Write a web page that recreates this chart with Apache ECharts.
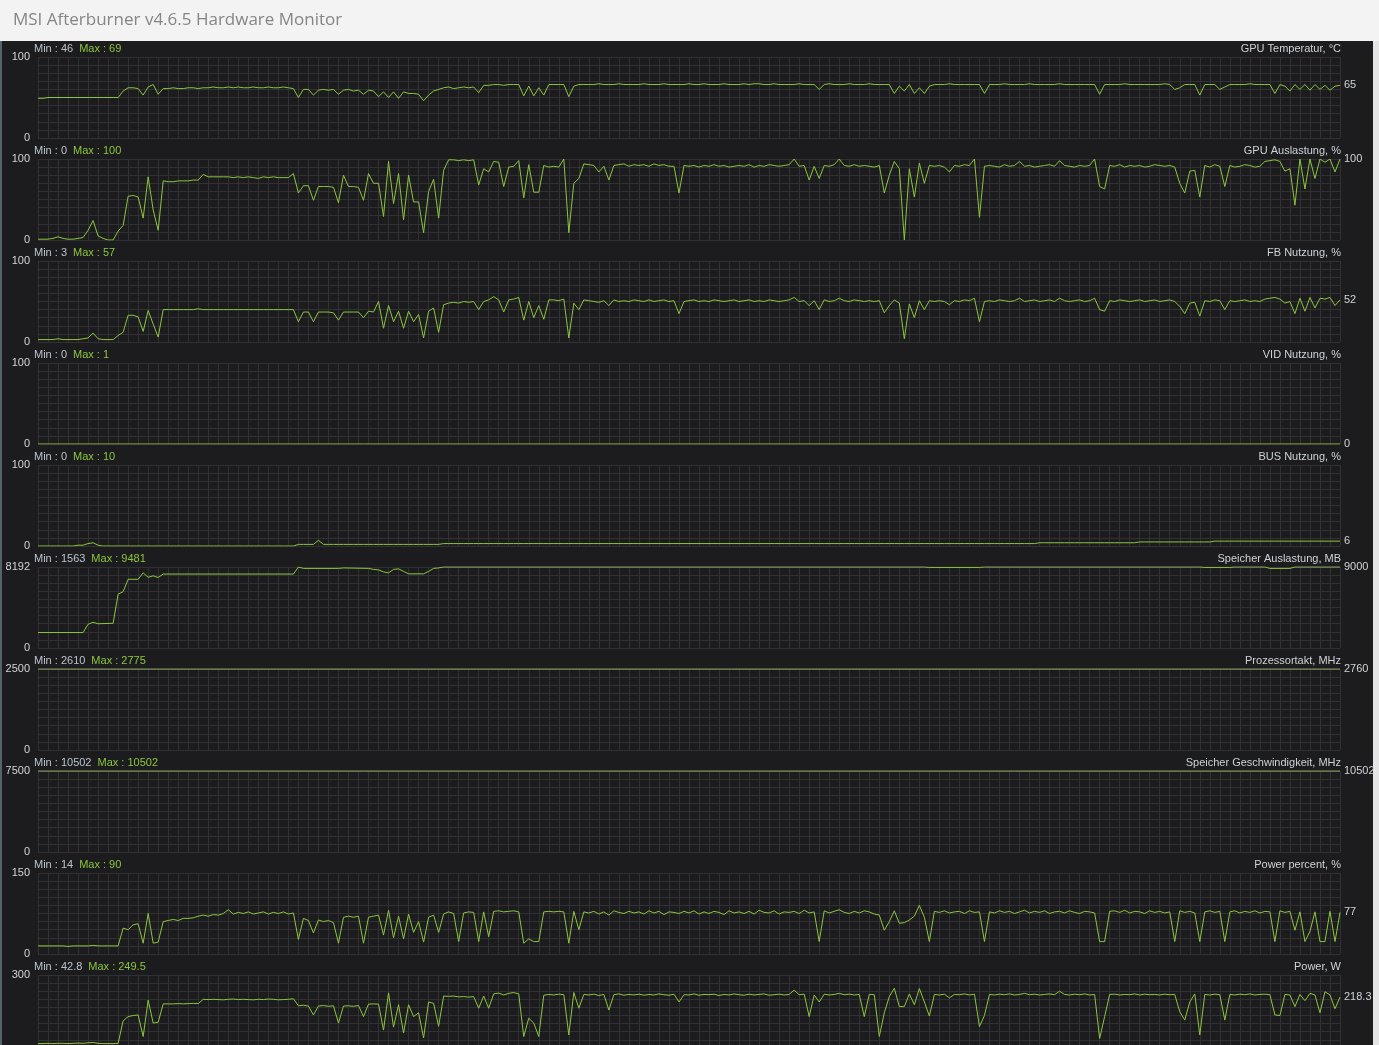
<!DOCTYPE html>
<html><head><meta charset="utf-8">
<script src="https://cdn.jsdelivr.net/npm/echarts@6.0.0/dist/echarts.min.js"></script>
<style>html,body{margin:0;padding:0;background:#1c1c1e;overflow:hidden;width:1379px;height:1045px}#c{width:1379px;height:1100px}</style>
</head><body><div id="c"></div>
<script>
// ---- data (sample index 0..260) ----
const gpuTemp = [
49,49,50,50,50,50,50,50,50,50, 50,50,50,50,50,50,50,58,62,62,
61,53,63,66,54,61,61,62,61,61, 62,62,61,62,62,63,62,62,63,62,
63,62,62,63,62,62,63,62,62,63, 62,61,50,60,60,53,59,60,59,60,
54,59,60,58,59,54,59,58,51,57, 50,57,49,57,55,55,54,46,53,58,
60,62,63,61,62,63,62,63,56,65, 65,66,66,65,66,66,66,52,64,52,
62,53,66,66,66,66,51,64,66,66, 66,66,67,66,66,66,67,66,66,66,
66,67,66,66,66,67,66,66,66,66, 67,66,66,67,66,66,66,67,66,66,
66,67,66,67,67,66,66,67,66,66, 66,66,67,66,66,66,60,66,67,66,
66,66,67,66,66,66,67,66,66,66, 66,55,64,58,66,55,62,55,64,66,
66,66,67,66,66,66,66,66,66,55, 66,66,66,67,66,66,66,66,67,66,
66,66,66,66,67,66,66,66,66,66, 66,66,54,66,66,66,66,67,66,66,
66,66,66,66,66,67,66,60,62,66, 66,66,53,66,66,66,60,63,66,66,
66,66,67,66,66,66,66,55,66,64, 58,66,60,66,59,66,60,65,59,64,65];
const gpuUtil = [
1,1,1,2,4,2,1,1,2,3, 12,24,5,2,0,0,11,18,54,55,
53,27,78,37,12,73,72,72,73,73, 73,74,74,81,78,78,78,78,78,77,
78,77,78,77,76,78,77,78,77,77, 77,82,58,67,67,49,66,66,66,65,
46,80,66,66,65,49,82,70,70,29, 97,45,82,25,80,47,47,9,60,75,
27,86,99,99,98,99,98,99,68,88, 84,97,96,66,90,91,98,52,93,59,
59,92,90,91,90,100,9,70,76,94, 93,92,84,91,74,92,93,94,91,93,
92,93,91,94,92,93,91,91,58,92, 91,92,90,92,91,93,91,92,90,91,
92,91,93,90,92,91,93,92,91,92, 93,100,91,92,74,91,76,92,91,93,
100,92,91,93,91,92,91,90,92,58, 80,97,88,0,88,53,95,70,92,91,
92,90,84,92,91,93,92,100,28,91, 92,91,90,93,91,92,97,91,92,90,
91,92,93,91,98,92,91,90,92,91, 92,100,66,63,92,91,93,90,92,91,
92,90,91,93,92,91,92,90,70,58, 85,86,53,92,90,93,91,66,92,90,
91,93,92,90,91,97,98,99,97,85, 88,43,100,63,100,76,100,96,100,84,100];
const fbUse = [
3,3,3,3,4,3,3,3,3,4, 5,11,4,3,3,3,8,12,33,33,
31,13,39,22,6,40,40,40,40,40, 40,40,41,40,40,40,40,40,40,40,
40,40,40,40,40,40,40,40,40,40, 40,40,25,37,37,25,37,37,37,36,
27,37,37,37,37,30,38,37,50,17, 45,25,38,17,38,25,34,5,38,42,
12,46,48,49,48,50,49,50,40,50, 52,56,52,37,52,53,55,27,50,30,
45,28,52,52,51,53,5,48,40,52, 51,50,49,51,45,52,50,51,50,52,
51,50,52,50,51,52,50,51,35,50, 51,52,50,51,50,52,51,50,51,52,
50,51,52,50,51,50,52,51,50,51, 52,55,50,51,45,51,40,52,50,51,
54,51,50,52,51,50,51,50,51,36, 45,52,48,4,47,30,51,40,51,50,
51,50,46,51,50,52,51,54,25,50, 51,50,52,51,50,51,54,50,51,52,
50,51,52,50,54,51,50,51,52,50, 51,54,40,38,51,50,52,51,50,51,
52,50,51,52,50,51,52,50,44,35, 48,49,32,51,50,52,51,40,51,50,
51,52,50,51,50,53,54,55,53,48, 50,35,54,38,55,42,54,53,55,45,52];
const busUse = [
0,0,0,0,0,0,0,0,1,1, 3,4,1,0,0,0,0,0,0,0,
0,0,0,0,0,0,0,0,0,0, 0,0,0,0,0,0,0,0,0,0,
0,0,0,0,0,0,0,0,0,0, 0,0,2,2,2,2,7,2,2,2,
2,2,2,2,2,2,2,2,2,2, 2,2,2,2,2,2,2,2,2,2,
2,3,3,3,3,3,3,3,3,3, 3,3,3,3,3,3,3,3,3,3,
3,3,3,3,3,3,3,3,3,3, 3,3,3,3,3,3,3,3,3,3,
3,3,3,3,3,3,3,3,3,3, 3,3,3,3,3,3,3,3,3,3,
3,3,3,3,3,3,3,3,3,3, 3,3,3,3,3,3,3,3,3,3,
3,3,3,3,3,3,3,3,3,3, 3,3,3,3,3,3,3,3,3,3,
3,3,3,3,3,3,3,3,3,3, 3,3,3,3,3,3,3,3,3,3,
4,4,4,4,4,4,4,4,4,4, 4,4,4,4,4,4,4,4,4,4,
5,5,5,5,5,5,5,5,5,5, 5,5,5,5,5,6,6,6,6,6,
6,6,6,6,6,6,6,6,6,6, 6,6,6,6,6,6,6,6,6,6,6];
const powerPct = [
15,15,15,15,15,15,14,15,15,15, 15,16,15,15,15,15,15,48,45,54,
56,20,75,20,22,60,62,64,62,66, 66,67,70,72,70,73,72,75,82,74,
77,75,78,74,76,78,74,77,75,78, 74,76,27,66,62,39,63,60,62,58,
20,68,70,68,70,20,68,70,72,35, 81,30,70,28,74,40,60,22,68,72,
40,74,78,75,23,76,78,77,23,78, 32,79,80,78,79,80,78,20,28,23,
23,78,79,78,79,78,20,79,45,78, 76,79,74,78,72,80,77,75,79,76,
78,74,80,76,79,73,78,77,75,79, 76,80,74,78,75,79,77,73,80,76,
78,75,79,74,81,77,76,80,74,78, 77,79,75,81,76,78,23,80,76,79,
82,77,75,79,76,80,78,74,72,44, 60,80,57,58,63,70,90,68,23,79,
77,80,76,78,79,75,80,77,78,23, 78,76,80,77,79,75,78,81,76,79,
77,80,75,78,79,76,80,77,75,79, 78,76,23,23,79,80,77,81,76,79,
78,75,80,77,79,76,78,23,80,77, 79,76,23,78,80,77,79,23,78,80,
76,79,77,80,76,79,78,23,80,77, 79,44,78,23,42,78,23,23,79,23,77];
const powerW = [
46,46,47,46,47,47,46,47,48,47, 49,50,47,46,46,46,47,130,146,150,
152,72,207,122,125,193,193,193,194,193, 194,195,194,210,209,210,209,208,210,211,
209,210,209,208,210,209,211,210,208,209, 210,212,186,188,185,152,185,187,184,186,
122,185,186,184,187,146,192,193,192,96, 234,107,190,85,190,146,160,67,200,195,
110,222,221,222,219,220,218,220,177,222, 177,230,233,226,232,235,230,72,140,122,
72,225,228,226,229,227,78,235,177,228, 226,229,224,228,170,227,230,225,228,226,
229,225,228,226,230,227,225,229,200,227, 226,230,225,228,227,229,224,228,226,230,
227,225,229,226,228,230,225,227,229,226, 228,244,227,229,146,226,200,229,226,228,
232,227,229,226,228,146,228,227,72,160, 220,251,183,183,230,190,250,200,148,228,
226,229,215,228,227,230,226,229,109,150, 228,226,229,227,230,226,228,232,227,229,
226,228,230,227,240,228,226,229,227,230, 226,228,65,146,228,229,226,228,227,230,
226,229,227,228,226,229,227,228,164,133, 200,230,78,228,226,229,227,133,228,226,
229,227,230,226,228,229,227,152,150,228, 226,183,228,205,232,226,160,238,226,175,218.3];
// step-like series as [sample index, value]
const vidUse = [[0,0],[260,0]];
const memUsed = [[0,1563],[9,1563],[10,2400],[11,2600],[12,2450],[15,2500],[16,5440],[17,5700],[18,6950],[20,6950],[21,7600],[22,7150],[23,7300],[24,7130],[25,7480],[51,7480],[52,8190],[53,8050],[60,8050],[61,8100],[66,8050],[67,7950],[68,7900],[69,7700],[70,7600],[71,7950],[72,8000],[73,7750],[74,7500],[77,7500],[78,7750],[79,8050],[80,8100],[81,9000],[177,9000],[178,8150],[188,8150],[189,9000],[232,9000],[233,8150],[238,8150],[239,9000],[245,9000],[246,8050],[250,8050],[251,9000],[260,9000]];
const coreClock = [[0,2610],[17,2775],[260,2760]];
const memClock = [[0,10502],[260,10502]];

const panelNames = ['GPU Temperatur, °C','GPU Auslastung, %','FB Nutzung, %','VID Nutzung, %','BUS Nutzung, %','Speicher Auslastung, MB','Prozessortakt, MHz','Speicher Geschwindigkeit, MHz','Power percent, %','Power, W'];
const axisMaxes = [100,100,100,100,100,8192,2500,7500,150,300];
const minTexts = ['46','0','3','0','0','1563','2610','10502','14','42.8'];
const maxTexts = ['69','100','57','1','10','9481','2775','10502','90','249.5'];
const curTexts = ['65','100','52','0','6','9000','2760','10502','77','218.3'];
const seriesData = [gpuTemp,gpuUtil,fbUse,vidUse,busUse,memUsed,coreClock,memClock,powerPct,powerW];

// ---- chart ----
const GREEN = '#8cc63e', GRIDC = '#313134', FONT = '"Liberation Sans", Arial, sans-serif';
const LAST = 260, PH = 81;
const grids=[], xAxes=[], yAxes=[], series=[], titles=[];
panelNames.forEach((name,k)=>{
  const top = 57 + 102*k, amax = axisMaxes[k];
  grids.push({left:38, width:1302, top:top, height:PH});
  xAxes.push({type:'value', gridIndex:k, min:0, max:LAST, interval:2,
    axisLine:{show:false}, axisTick:{show:false}, axisLabel:{show:false},
    splitLine:{show:true, lineStyle:{color:GRIDC, width:1}}});
  yAxes.push({type:'value', gridIndex:k, min:0, max:amax, interval:amax/10,
    axisLine:{show:false}, axisTick:{show:false},
    splitLine:{show:true, lineStyle:{color:GRIDC, width:1}},
    axisLabel:{color:'#d4d4d4', fontSize:11, fontFamily:FONT, margin:8,
      formatter:v => (Math.abs(v)<1e-9 || Math.abs(v-amax)<1e-6) ? String(Math.round(v)) : ''}});
  const raw = seriesData[k];
  const pts = (Array.isArray(raw[0]) ? raw : raw.map((v,i)=>[i,v]))
      .map(([i,v]) => [i, Math.min(v, amax), v]);
  const over = pts.some(p => p[2] > amax);
  // values above the axis maximum are drawn pinned to the top edge in white
  const color = over ? {type:'linear', global:true, x:0, y:top-1, x2:0, y2:top+PH,
      colorStops:[{offset:0,color:'#ffffff'},{offset:1.5/(PH+1),color:'#ffffff'},
                  {offset:1.5/(PH+1),color:GREEN},{offset:1,color:GREEN}]} : GREEN;
  series.push({type:'line', xAxisIndex:k, yAxisIndex:k, data:pts, symbol:'none', showSymbol:false,
    silent:true, animation:false, lineStyle:{width:1, color:color}, itemStyle:{color:GREEN},
    endLabel:{show:true, formatter:()=>curTexts[k], color:'#d0d4d8', fontSize:11, fontFamily:FONT, distance:4}});
  titles.push({left:34, top:top-14, padding:0,
    text:`{a|Min : ${minTexts[k]}}{g| }{b|Max : ${maxTexts[k]}}`,
    textStyle:{fontSize:11, fontWeight:'normal', rich:{a:{color:'#b9c3cd', fontSize:11, fontWeight:'normal', fontFamily:FONT},
      g:{width:6, fontSize:11}, b:{color:GREEN, fontSize:11, fontWeight:'normal', fontFamily:FONT}}}});
  titles.push({right:38, top:top-14, padding:0, text:name,
    textStyle:{color:'#cdd2d7', fontSize:11, fontWeight:'normal', fontFamily:FONT}});
});

const chart = echarts.init(document.getElementById('c'), null, {renderer:'canvas'});
chart.setOption({
  backgroundColor:'#1c1c1e', animation:false,
  grid:grids, xAxis:xAxes, yAxis:yAxes, series:series, title:titles,
  graphic:[
    {type:'rect', left:0, top:0, shape:{width:1379, height:41}, style:{fill:'#f3f3f3'}},
    {type:'text', left:13, top:12, style:{text:'MSI Afterburner v4.6.5 Hardware Monitor', fill:'#858585', font:'17px "Open Sans", sans-serif'}},
    {type:'rect', left:0, top:41, shape:{width:2, height:1059}, style:{fill:'#56626e'}},
    {type:'rect', left:1373, top:41, shape:{width:6, height:1059}, style:{fill:'#e4e4e4'}}
  ]
});
</script></body></html>
